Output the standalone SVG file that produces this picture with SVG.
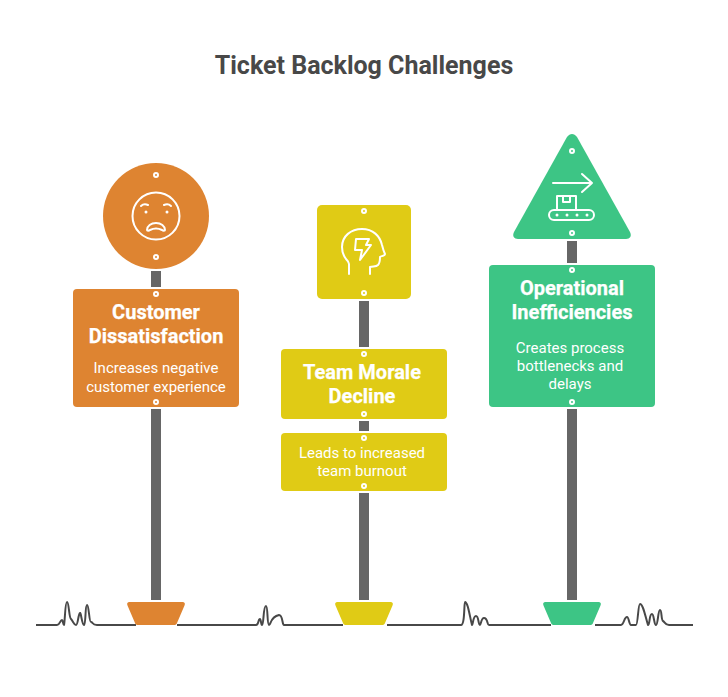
<svg xmlns="http://www.w3.org/2000/svg" width="728" height="697" viewBox="0 0 728 697">
<style>
text{font-family:Roboto,"Liberation Sans",sans-serif;text-anchor:middle;fill:#fff}
.title{font-size:25px;font-weight:700;fill:#484848}
.h{font-size:20px;font-weight:700;stroke:#fff;stroke-width:.25}
.b{font-size:15px;font-weight:400}
.pole{fill:#666}
.g{fill:none;stroke:#484848;stroke-width:2;stroke-linejoin:round}
.r{stroke:#fff;stroke-width:2}
.i{fill:none;stroke:#fff;stroke-width:2;stroke-linecap:round;stroke-linejoin:round}
.o{fill:#de8431}.y{fill:#e0cb15}.v{fill:#3dc585}
</style>
<rect width="728" height="697" fill="#fff"/>
<text class="title" x="364" y="74">Ticket Backlog Challenges</text>
<g id="connectors">
<rect class="pole" x="151" y="271" width="10" height="16"/>
<rect class="pole" x="151" y="409" width="10" height="191"/>
<rect class="pole" x="359" y="301" width="10" height="46"/>
<rect class="pole" x="359" y="421" width="10" height="10"/>
<rect class="pole" x="359" y="493" width="10" height="107"/>
<rect class="pole" x="567" y="241" width="10" height="22"/>
<rect class="pole" x="567" y="409" width="10" height="191"/>
</g>
<g id="ground">
<path class="g" d="M36 625H57C60 625 60 620 62 620C63 620 63 625 64 625C65 622 65 602 67 602C69 602 69 618 71 619C73 621 74 625 76 625C78 625 78 615 80 613C81 612 82 625 84 625C86 624 85 605 87 605C89 605 89 622 91 622C93 622 92 625 97 625H136"/>
<path class="g" d="M177 625H256C259 625 258 619 260 619C261 619 261 625 262 625C264 625 263 606 266 606C268 606 267 625 269 625C271 625 270 617 279 615C283 615 282 625 284 625H343"/>
<path class="g" d="M387 625H461C465 625 464 602 465 602C468 602 470 618 472 625C473 625 473 616 476 616C479 616 478 625 480 625C481 625 481 618 484 618C488 618 487 625 489 625H551"/>
<path class="g" d="M595 625H621C624 625 624 617 627 617C629 617 629 625 631 625H636C638 625 638 604 640 604C643 604 645 615 648 625C650 625 649 614 652 614C654 614 654 625 656 625C658 625 658 610 660 610C662 610 661 620 663 621C665 622 665 625 669 625H693"/>
</g>
<g id="customer-dissatisfaction">
<circle class="o" cx="156" cy="216" r="53"/>
<circle class="i" cx="156" cy="216" r="23.500"/>
<path class="i" d="M141 206C143 204 146 204 148 205M164 205C166 204 169 204 171 206M147 230C147 226 151 223 156 223C161 223 165 226 165 230C165 231 163 231 162 230C158 228 154 228 150 230C149 231 147 231 147 230Z"/>
<circle cx="146" cy="212" r="1.500" fill="#fff"/><circle cx="167" cy="212" r="1.500" fill="#fff"/>
<circle class="o r" cx="156" cy="175" r="2"/><circle class="o r" cx="156" cy="257" r="2"/>
<rect class="o" x="73" y="289" width="166" height="118" rx="4"/>
<circle class="o r" cx="156" cy="294" r="2"/><circle class="o r" cx="156" cy="402" r="2"/>
<text class="h" x="156" y="319">Customer</text>
<text class="h" x="156" y="343">Dissatisfaction</text>
<text class="b" x="156" y="373">Increases negative</text>
<text class="b" x="156" y="392">customer experience</text>
<path class="o" d="M129.500 602H182.500C184.500 602 185.500 603.500 184.500 605.500L177 623C176.500 624.500 175.500 625 174 625H138C136.500 625 135.500 624.500 135 623L127.500 605.500C126.500 603.500 127.500 602 129.500 602Z"/>
</g>
<g id="team-morale">
<rect class="y" x="317" y="205" width="94" height="94" rx="5"/>
<path class="i" d="M349 274V264C349 262 348 261 346 259C343 255 342 251 342 247C342 236 351 229 362 229C373 229 380 236 382 245C383 249 384 252 385 254C385 256 381 256 380 257C380 260 380 263 378 265C376 267 373 266 370 267V274"/>
<path class="i" d="M356 239H369L366 245H371L360 260L362 250H355Z"/>
<circle class="y r" cx="364" cy="211" r="2"/><circle class="y r" cx="364" cy="293" r="2"/>
<rect class="y" x="281" y="349" width="166" height="70" rx="4"/>
<circle class="y r" cx="364" cy="354" r="2"/><circle class="y r" cx="364" cy="414" r="2"/>
<text class="h" x="362" y="379">Team Morale</text>
<text class="h" x="362" y="403">Decline</text>
<rect class="y" x="281" y="433" width="166" height="58" rx="4"/>
<circle class="y r" cx="364" cy="438" r="2"/><circle class="y r" cx="364" cy="486" r="2"/>
<text class="b" x="362" y="458">Leads to increased</text>
<text class="b" x="362" y="476">team burnout</text>
<path class="y" d="M337.500 602H390.500C392.500 602 393.500 603.500 392.500 605.500L385 623C384.500 624.500 383.500 625 382 625H346C344.500 625 343.500 624.500 343 623L335.500 605.500C334.500 603.500 335.500 602 337.500 602Z"/>
</g>
<g id="operational-inefficiencies">
<path class="v" d="M567 137C570 133 574 133 577 137L630 232C632 236 630 239 626 239H518C514 239 512 236 514 232Z"/>
<path class="i" d="M553 183H592M582 174L592 183L582 192"/>
<path class="i" d="M557 209V196H576V209M563 196V202H570V196"/>
<rect class="i" x="549" y="210" width="45" height="10" rx="5"/>
<g fill="#fff"><circle cx="557" cy="215" r="1.500"/><circle cx="567" cy="215" r="1.500"/><circle cx="577" cy="215" r="1.500"/><circle cx="587" cy="215" r="1.500"/></g>
<circle class="v r" cx="572" cy="151" r="2"/><circle class="v r" cx="572" cy="233" r="2"/>
<rect class="v" x="489" y="265" width="166" height="142" rx="4"/>
<circle class="v r" cx="572" cy="270" r="2"/><circle class="v r" cx="572" cy="402" r="2"/>
<text class="h" x="572" y="295">Operational</text>
<text class="h" x="572" y="319">Inefficiencies</text>
<text class="b" x="570" y="353">Creates process</text>
<text class="b" x="570" y="371">bottlenecks and</text>
<text class="b" x="570" y="389">delays</text>
<path class="v" d="M545.500 602H598.500C600.500 602 601.500 603.500 600.500 605.500L593 623C592.500 624.500 591.500 625 590 625H554C552.500 625 551.500 624.500 551 623L543.500 605.500C542.500 603.500 543.500 602 545.500 602Z"/>
</g>
</svg>
